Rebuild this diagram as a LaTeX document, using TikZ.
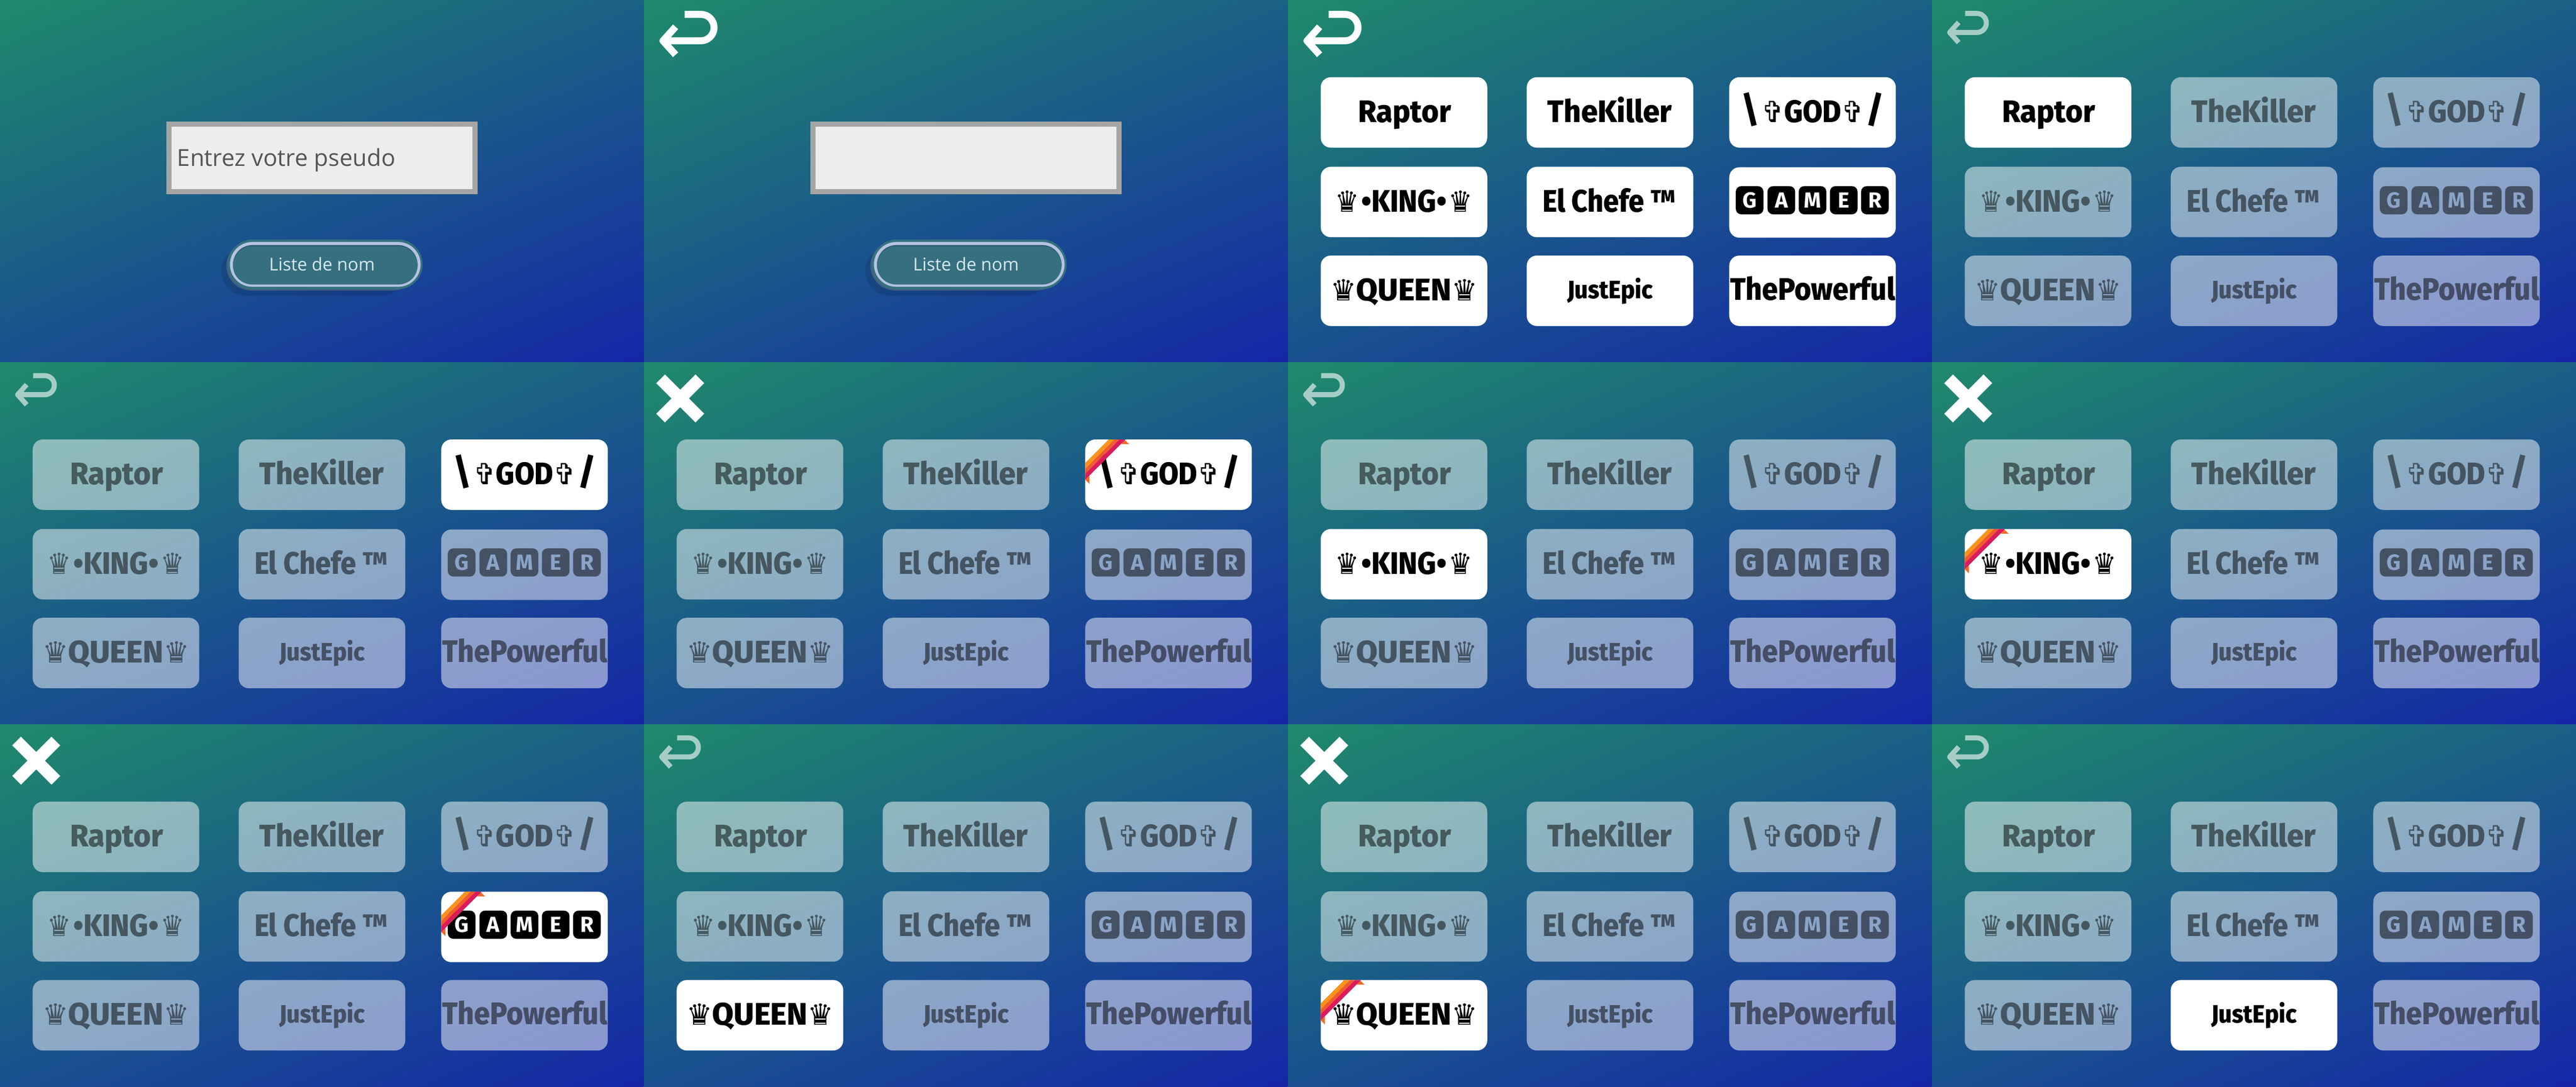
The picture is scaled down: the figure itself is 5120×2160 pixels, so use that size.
\documentclass[tikz,border=0pt]{standalone}
\usepackage{fontspec}
\usepackage{xcolor}
\setmainfont{Open Sans}
\newfontfamily\namefont{Fira Sans ExtraBold}
\newfontfamily\keyfont{Fira Sans}
\newfontfamily\symfont{DejaVu Sans}
\definecolor{gradstart}{HTML}{1F8A6C}
\definecolor{gradend}{HTML}{1526A8}
\definecolor{fieldgrey}{HTML}{A5A5A5}
\definecolor{fieldfill}{HTML}{EDEDED}
\definecolor{hinttext}{HTML}{555555}
\definecolor{btnfill}{HTML}{367080}
\definecolor{btnhalo}{HTML}{34727F}
\definecolor{btnedge}{HTML}{B5C3E0}
\definecolor{btndark}{HTML}{2C5770}
\definecolor{btntext}{HTML}{D8E8EE}
\definecolor{keyhole}{HTML}{8AA3C8}
\definecolor{ribone}{HTML}{F7941D}
\definecolor{ribtwo}{HTML}{F15A29}
\definecolor{ribthree}{HTML}{DA1C5C}
\definecolor{ribfold}{HTML}{F26A21}
\pgfdeclareverticalshading{panelgrad}{300bp}{color(0bp)=(gradend); color(228.6bp)=(gradstart)}
\newcommand{\glyphsym}[1]{{\symfont\fontsize{11.6}{11.6}\selectfont #1}}
\newcommand{\bigslant}[1]{{\fontsize{14.5}{14.5}\selectfont #1}}
\tikzset{
	cardon/.style={rectangle, fill=white, rounded corners=4pt, inner sep=0pt, minimum width=66.2pt, minimum height=28pt},
	cardoff/.style={cardon, fill opacity=.5},
	labelon/.style={anchor=base, inner sep=0pt, text=black},
	labeloff/.style={labelon, text opacity=.5},
	keyon/.style={rectangle, fill=black, rounded corners=2.2pt, inner sep=0pt, minimum width=11pt, minimum height=11.2pt, text=white, font=\keyfont\bfseries\fontsize{8.7}{8.7}\selectfont},
	keyoff/.style={keyon, fill opacity=.5, text=keyhole, text opacity=1},
	pill/.style 2 args={rectangle, inner sep=0pt, minimum width=#1*.2pt, minimum height=#2*.2pt, rounded corners=#2*.1pt},
	backline/.style={draw=white, line join=round},
	crossline/.style={draw=white, line width=4.9pt},
}
\newcommand{\backicon}[3]{
	\draw[backline, line width=#2, draw opacity=#3, scale around={#1:(28,22)}]
		(66,26.7) -- (89.3,26.7) .. controls (99.6,26.7) and (108,35) .. (108,45.6)
		.. controls (108,56) and (99.6,64.5) .. (89.3,64.5) -- (35,64.5)
		(53,44.5) -- (35,64.5) -- (53,84.5);
}
\newcommand{\loginbox}[2]{
	\node[rectangle, draw=fieldgrey, line width=2pt, fill=fieldfill, minimum width=121.6pt, minimum height=26.8pt] (field#1) at (640,314) {};
	\node[anchor=base west, inner sep=0pt, text=hinttext, font=\fontsize{9.3}{9.3}\selectfont] (hint#1) at (351,330) {#2};
	\node[pill={366}{98}, fill=black, fill opacity=.1] (shadowa#1) at (623,539) {};
	\node[pill={380}{99}, fill=gray, fill opacity=.45] (shadowb#1) at (640,528) {};
	\node[pill={387}{99}, fill=btnhalo] (halo#1) at (646.5,525.5) {};
	\node[pill={373}{83}, fill=btndark, draw=btnedge, line width=1.2pt] (liste#1) at (646.5,525.5) {};
	\node[pill={367}{76}, fill=btnfill] (fill#1) at (646.5,527.5) {};
	\node[anchor=base, inner sep=0pt, text=btntext, font=\fontsize{7}{7}\selectfont] (listetext#1) at (640,538) {Liste de nom};
}
\newcommand{\ribbon}[2]{
	\begin{scope}[shift={(#1-165.5,#2-70)}]
		\fill[ribfold] (78,0.7) -- (87.3,9.3) -- (71.7,9.3) -- cycle;
		\fill[ribfold] (0,80) -- (8.3,88.3) -- (8.3,71.7) -- cycle;
		\fill[ribone] (46.7,0) -- (58,0) -- (0,58) -- (0,46.7) -- cycle;
		\fill[ribtwo] (58,0) -- (68,0) -- (0,68) -- (0,58) -- cycle;
		\fill[ribthree] (68,0) -- (80,0) -- (0,80) -- (0,68) -- cycle;
	\end{scope}
}
\begin{document}
\begin{tikzpicture}[x=.2pt, y=-.2pt]
	\useasboundingbox (0,0) rectangle (5120,2160);
	\foreach \p/\ox/\oy in {1/0/0, 2/1280/0, 3/2560/0, 4/3840/0, 5/0/720, 6/1280/720, 7/2560/720, 8/3840/720, 9/0/1440, 10/1280/1440, 11/2560/1440, 12/3840/1440} {
		\begin{scope}[shift={(\ox,\oy)}]
			\clip (0,0) rectangle (1280,720);
			\node[rotate=22, inner sep=0pt] (bg\p) at (640,360) {\pgfuseshading{panelgrad}};
		\end{scope}
	}
	\begin{scope}
		\loginbox{a}{Entrez votre pseudo}
	\end{scope}
	\begin{scope}[shift={(1280,0)}]
		\loginbox{b}{}
		\backicon{1.39}{2.78pt}{1}
	\end{scope}
	\foreach \p/\ox/\oy/\ic/\on/\rib in {3/2560/0/1/0/0, 4/3840/0/2/1/0, 5/0/720/2/3/0, 6/1280/720/3/3/3, 7/2560/720/2/4/0, 8/3840/720/3/4/4, 9/0/1440/3/6/6, 10/1280/1440/2/7/0, 11/2560/1440/3/7/7, 12/3840/1440/2/8/0} {
		\begin{scope}[shift={(\ox,\oy)}]
			\ifcase\ic\or
				\backicon{1.39}{2.78pt}{1}
			\or
				\backicon{1}{2pt}{.6}
			\or
				\draw[crossline] (33,33) -- (111,111) (111,33) -- (33,111);
			\fi
			\foreach \n/\cx/\cy/\lx/\ly/\lw/\ls/\ltext in {
				1/230.5/223.5/232/243/36.8/12.4/{Raptor},
				2/640/223.5/639.5/243/49.4/12.4/{TheKiller},
				3/1042.5/223.5/1043/243/56.4/12.4/{\bigslant{\textbackslash}\hspace{1pt}\glyphsym{✞}GOD\glyphsym{✞}\hspace{1pt}\bigslant{/}},
				4/230.5/401.5/230.5/421/54.6/12.4/{\glyphsym{♛}\hspace{.8pt}•KING•\hspace{.8pt}\glyphsym{♛}},
				5/640/401.5/638.5/421/53/12.4/{El Chefe ™},
				6/1042.5/402.5/0/0/0/0/{},
				7/230.5/578/230.5/597/58.6/12.4/{\glyphsym{♛}QUEEN\glyphsym{♛}},
				8/640/578/640/593/34/10/{JustEpic},
				9/1042.5/578/1043/596/65.6/12.4/{ThePowerful}} {
				\ifnum\on=0 \def\st{on}\else\ifnum\n=\on \def\st{on}\else\def\st{off}\fi\fi
				\node[card\st] (card\p\n) at (\cx,\cy) {};
				\ifnum\n=6
					\foreach \k/\kx/\ltr in {1/917.5/G, 2/980.5/A, 3/1042.5/M, 4/1104.5/E, 5/1166.5/R} {
						\node[key\st] (key\p\k) at (\kx,398) {\ltr};
					}
				\else
					\node[label\st, font=\namefont\fontsize{\ls}{\ls}\selectfont] (name\p\n) at (\lx,\ly) {\resizebox{\lw pt}{\height}{\ltext}};
				\fi
				\ifnum\n=\rib \ribbon{\cx}{\cy} \fi
			}
		\end{scope}
	}
\end{tikzpicture}
\end{document}
